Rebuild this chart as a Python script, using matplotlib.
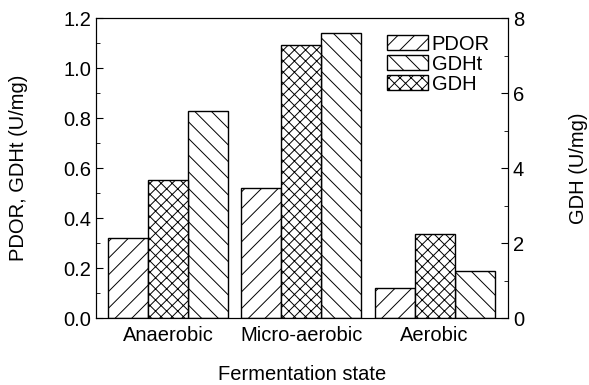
import numpy as np
import matplotlib.pyplot as plt
from matplotlib.ticker import MultipleLocator
from matplotlib.patches import Patch

plt.rcParams['font.family'] = ['Liberation Sans', 'DejaVu Sans']
plt.rcParams['hatch.linewidth'] = 0.7

states = ['Anaerobic', 'Micro-aerobic', 'Aerobic']
pdor = [0.32, 0.52, 0.12]
gdht = [0.83, 1.14, 0.19]
gdh = [3.67, 7.29, 2.23]

fs = 14.5

fig = plt.figure(figsize=(5.89, 3.85), dpi=100)
ax = fig.add_axes([0.163, 0.174, 0.6995, 0.779])
ax2 = ax.twinx()

x = np.arange(len(states))
w = 0.3
ax.bar(x - w, pdor, w, color='white', edgecolor='black', linewidth=1, hatch='//')
ax2.bar(x, gdh, w, color='white', edgecolor='black', linewidth=1, hatch='xxx')
ax.bar(x + w, gdht, w, color='white', edgecolor='black', linewidth=1, hatch='\\\\')

ax.set_xlim(-0.54, 2.55)
ax.set_ylim(0, 1.2)
ax2.set_ylim(0, 8)
ax.set_xticks(x)
ax.set_xticklabels(states)
ax.tick_params(axis='x', length=0, pad=6, labelsize=fs)

ax.yaxis.set_major_locator(MultipleLocator(0.2))
ax.yaxis.set_minor_locator(MultipleLocator(0.1))
ax.yaxis.set_major_formatter(plt.FormatStrFormatter('%.1f'))
ax2.yaxis.set_major_locator(MultipleLocator(2))
ax2.yaxis.set_minor_locator(MultipleLocator(1))
ax.tick_params(axis='y', which='both', direction='in', labelsize=fs, right=False)
ax.tick_params(axis='y', which='major', length=5)
ax.tick_params(axis='y', which='minor', length=3)
ax2.tick_params(axis='y', which='both', direction='in', labelsize=fs)
ax2.tick_params(axis='y', which='major', length=5)
ax2.tick_params(axis='y', which='minor', length=3)

ax.set_xlabel('Fermentation state', fontsize=fs, labelpad=14)
ax.set_ylabel('PDOR, GDHt (U/mg)', fontsize=fs, labelpad=25)
ax2.set_ylabel('GDH (U/mg)', fontsize=fs, labelpad=32)

handles = [Patch(facecolor='white', edgecolor='black', hatch='//', label='PDOR'),
           Patch(facecolor='white', edgecolor='black', hatch='\\\\', label='GDHt'),
           Patch(facecolor='white', edgecolor='black', hatch='xxx', label='GDH')]
ax2.legend(handles=handles, loc='upper right', bbox_to_anchor=(1.0, 1.005), frameon=False,
           fontsize=fs, handlelength=2.0, handleheight=0.8, handletextpad=0.2, labelspacing=0.05)

plt.savefig('out.png', dpi=100)
